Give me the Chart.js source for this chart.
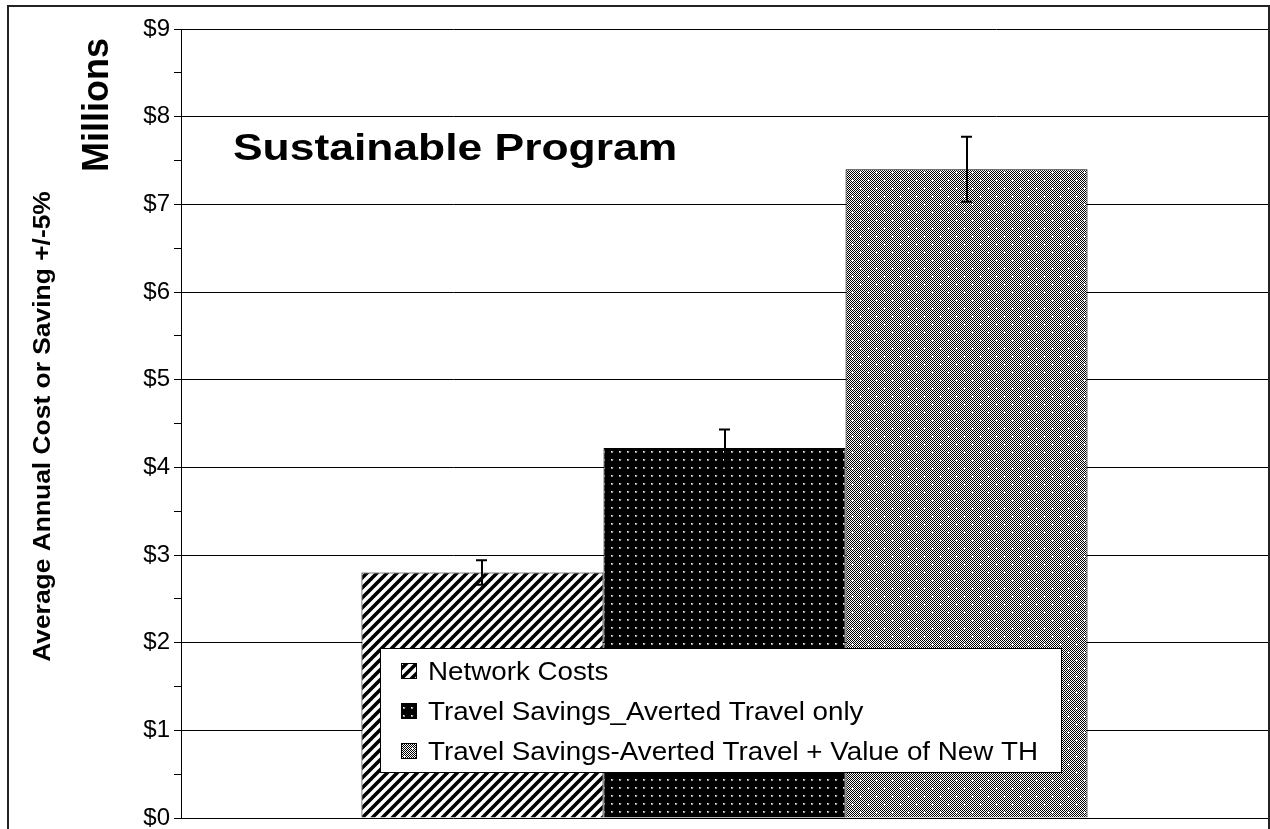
<!DOCTYPE html>
<html>
<head>
<meta charset="utf-8">
<script src="https://cdn.jsdelivr.net/npm/chart.js@4/dist/chart.umd.min.js"></script>
<style>
	html, body { margin: 0; padding: 0; background: #fff; }
	#wrap { position: relative; width: 1270px; height: 829px; }
</style>
</head>
<body>
<div id="wrap"><canvas id="chart" aria-label="Sustainable Program average annual cost or saving"></canvas></div>
<script>
	'use strict';

	const CATEGORIES = [ 'Sustainable Program' ];
	const SERIES_LABELS = [
		'Network Costs',
		'Travel Savings_Averted Travel only',
		'Travel Savings-Averted Travel + Value of New TH',
	];
	const SERIES_VALUES = [ 2.8, 4.22, 7.4 ]; // $ millions
	const ERROR_PCT = 0.05;
	const Y_MIN = 0;
	const Y_MAX = 9;
	const FONT = '"Liberation Sans", Arial, sans-serif';

	// Excel-ish fill patterns, built on small tiles.
	function tile( size, draw ) {
		const c = document.createElement( 'canvas' );
		c.width = size;
		c.height = size;
		draw( c.getContext( '2d' ) );
		return c;
	}

	const stripeTile = tile( 10, ( g ) => {
		g.fillStyle = '#fff';
		g.fillRect( 0, 0, 10, 10 );
		g.strokeStyle = '#000';
		g.lineWidth = 3.6;
		g.beginPath();
		for ( let k = -10; k <= 20; k += 10 ) {
			g.moveTo( k - 5, 15 );
			g.lineTo( k + 15, -5 );
		}
		g.stroke();
	} );

	const dotTile = tile( 8, ( g ) => {
		g.fillStyle = '#000';
		g.fillRect( 0, 0, 8, 8 );
		g.fillStyle = '#999';
		g.fillRect( 3, 3, 2, 2 );
		g.fillStyle = '#fff';
		g.fillRect( 3, 3, 1, 1 );
	} );

	const checkTile = tile( 16, ( g ) => {
		g.fillStyle = '#fff';
		g.fillRect( 0, 0, 16, 16 );
		g.fillStyle = '#000';
		for ( let y = 0; y < 16; y++ ) {
			for ( let x = 0; x < 16; x++ ) {
				if ( ( x + y ) % 2 === 0 ) g.fillRect( x, y, 1, 1 );
			}
		}
		g.fillStyle = '#fff';
		[ [ 4, 4 ], [ 12, 12 ] ].forEach( ( p ) => {
			g.fillRect( p[ 0 ] - 1, p[ 1 ], 3, 1 );
			g.fillRect( p[ 0 ], p[ 1 ] - 1, 1, 3 );
		} );
	} );

	const ctx = document.getElementById( 'chart' ).getContext( '2d' );
	const PATTERNS = [ stripeTile, dotTile, checkTile ].map( ( t ) => ctx.createPattern( t, 'repeat' ) );

	// Frame round the whole chart, drawn first.
	const framePlugin = {
		id: 'frame',
		beforeDraw( chart ) {
			const g = chart.ctx;
			g.save();
			g.fillStyle = '#fff';
			g.fillRect( 0, 0, chart.width, chart.height );
			g.strokeStyle = '#222';
			g.lineWidth = 2;
			g.strokeRect( 8, 6, chart.width - 9, chart.height + 20 );
			g.restore();
		},
	};

	// +/-5% error bars on every bar.
	const errorBarPlugin = {
		id: 'errorBars',
		afterDatasetsDraw( chart ) {
			const g = chart.ctx;
			const y = chart.scales.y;
			g.save();
			g.strokeStyle = '#000';
			g.lineWidth = 2;
			chart.data.datasets.forEach( ( ds, i ) => {
				const bar = chart.getDatasetMeta( i ).data[ 0 ];
				const v = ds.data[ 0 ];
				const x = Math.round( bar.x );
				const hi = y.getPixelForValue( v * ( 1 + ERROR_PCT ) );
				const lo = y.getPixelForValue( v * ( 1 - ERROR_PCT ) );
				g.beginPath();
				g.moveTo( x, hi );
				g.lineTo( x, lo );
				g.moveTo( x - 6, hi );
				g.lineTo( x + 5, hi );
				g.moveTo( x - 6, lo );
				g.lineTo( x + 5, lo );
				g.stroke();
			} );
			g.restore();
		},
	};

	// Stretched text helper (the source text is a bit wider than Arial).
	function text( g, str, x, y, font, sx ) {
		g.save();
		g.translate( x, y );
		g.scale( sx, 1 );
		g.font = font;
		g.fillText( str, 0, 0 );
		g.restore();
	}

	// Titles and the boxed legend inside the plot.
	const annotatePlugin = {
		id: 'annotate',
		afterDraw( chart ) {
			const g = chart.ctx;
			const area = chart.chartArea;
			g.save();
			g.fillStyle = '#000';
			g.textBaseline = 'alphabetic';

			text( g, CATEGORIES[ 0 ], 233, 160, 'bold 37px ' + FONT, 1.2 );

			// "Millions" unit label
			g.save();
			g.translate( 108, 105 );
			g.rotate( -Math.PI / 2 );
			g.textAlign = 'center';
			g.font = 'bold 36px ' + FONT;
			g.fillText( 'Millions', 0, 0 );
			g.restore();

			// Y axis title
			g.save();
			g.translate( 50, ( area.top + area.bottom ) / 2 + 3 );
			g.rotate( -Math.PI / 2 );
			g.scale( 1.1, 1 );
			g.textAlign = 'center';
			g.font = 'bold 24px ' + FONT;
			g.fillText( 'Average Annual Cost or Saving +/-5%', 0, 0 );
			g.restore();

			// Legend
			const lx = 380, ly = 648, lw = 681, lh = 124;
			g.fillStyle = '#fff';
			g.fillRect( lx, ly, lw, lh );
			g.strokeStyle = '#000';
			g.lineWidth = 1;
			g.strokeRect( lx + 0.5, ly + 0.5, lw, lh );
			chart.data.datasets.forEach( ( ds, i ) => {
				const cy = 671 + i * 40;
				g.fillStyle = ds.backgroundColor;
				g.fillRect( 401, cy - 8, 16, 16 );
				g.strokeRect( 401.5, cy - 7.5, 15, 15 );
				g.fillStyle = '#000';
				text( g, ds.label, 428, cy + 9, '25px ' + FONT, 1.11 );
			} );
			g.restore();
		},
	};

	new Chart( ctx, {
		type: 'bar',
		data: {
			labels: CATEGORIES,
			datasets: SERIES_LABELS.map( ( label, i ) => ( {
				label,
				data: [ SERIES_VALUES[ i ] ],
				backgroundColor: PATTERNS[ i ],
				borderColor: '#000',
				borderWidth: 1,
				borderSkipped: 'bottom',
				barPercentage: 1,
				categoryPercentage: 0.668,
			} ) ),
		},
		options: {
			responsive: true,
			maintainAspectRatio: false,
			devicePixelRatio: 1,
			animation: false,
			layout: { padding: { left: 0, top: 29, right: 2, bottom: 11 } },
			plugins: {
				legend: { display: false },
				tooltip: { enabled: false },
			},
			scales: {
				x: { display: false },
				y: {
					min: Y_MIN,
					max: Y_MAX,
					afterFit: ( scale ) => { scale.width = 181; },
					border: { display: true, color: '#000', width: 1 },
					grid: {
						color: ( c ) => ( c.tick && c.tick.value % 1 === 0 ? '#000' : 'rgba(0,0,0,0)' ),
						tickColor: '#000',
						tickLength: 7,
						lineWidth: 1,
					},
					ticks: {
						stepSize: 0.5,
						autoSkip: false,
						padding: 4,
						color: '#000',
						font: { family: FONT, size: 24, lineHeight: 0.4 },
						callback: ( v ) => ( v % 1 === 0 ? '$' + v : '' ),
					},
				},
			},
		},
		plugins: [ framePlugin, errorBarPlugin, annotatePlugin ],
	} );
</script>
</body>
</html>
